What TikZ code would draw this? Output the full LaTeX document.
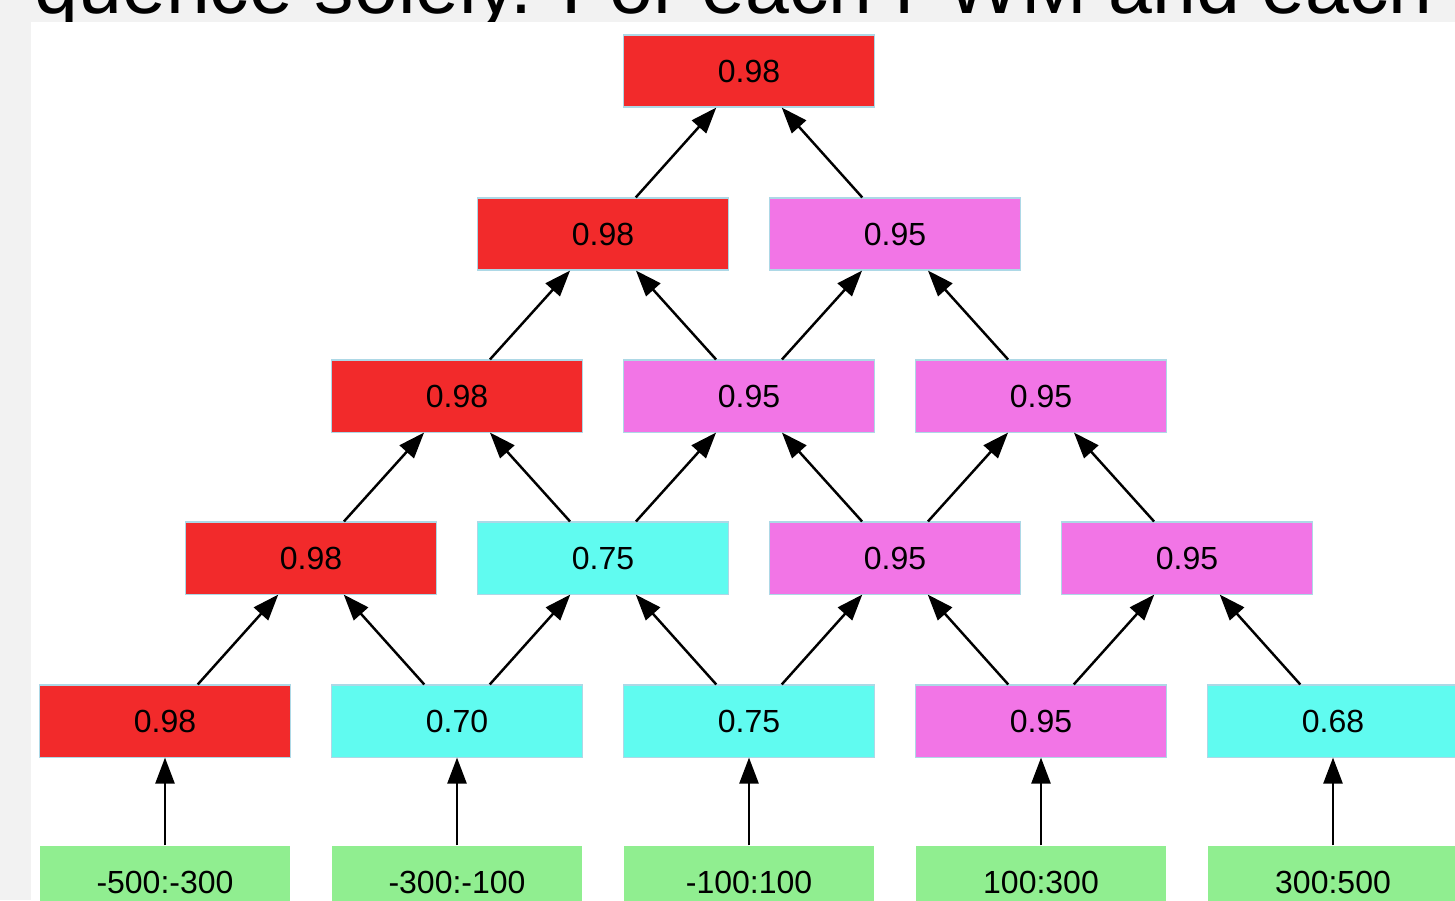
\documentclass[tikz,border=0pt]{standalone}
\usepackage{fontspec}
\setmainfont{Liberation Sans}
\usetikzlibrary{arrows.meta}
\definecolor{hotred}{RGB}{242,42,43}
\definecolor{pinkv}{RGB}{242,117,230}
\definecolor{aqua}{RGB}{96,251,240}
\definecolor{mint}{RGB}{144,238,144}
\definecolor{pagegray}{RGB}{242,242,242}
\definecolor{edgeblue}{RGB}{173,216,230}
\tikzset{cell/.style={draw=edgeblue, line width=0.3pt, minimum width=2.5cm, minimum height=0.72cm, inner sep=0pt, font=\fontsize{9.1pt}{11pt}\selectfont}}
\tikzset{leaf/.style={cell, draw=none, fill=mint}}
\tikzset{arr/.style={draw, -{Triangle[length=2.6mm,width=1.9mm]}, line width=0.7pt}}
\begin{document}
\begin{tikzpicture}[x=0.01cm, y=-0.01cm]
    \useasboundingbox (0,0) rectangle (1455,900);
    \clip (0,0) rectangle (1455,900);
    \fill[pagegray] (0,0) rectangle (1455,900);
    \node[anchor=base west, inner sep=0pt, font=\fontsize{22.4pt}{27pt}\selectfont] (caption) at (34,14) {quence solely. For each PWM and each};
    \fill[white] (31,22) rectangle (1460,920);
    % lattice, top to bottom
    \node[cell, fill=hotred] (n00) at (749,71) {0.98};
    \node[cell, fill=hotred] (n10) at (603,234) {0.98};
    \node[cell, fill=pinkv] (n11) at (895,234) {0.95};
    \node[cell, fill=hotred] (n20) at (457,396) {0.98};
    \node[cell, fill=pinkv] (n21) at (749,396) {0.95};
    \node[cell, fill=pinkv] (n22) at (1041,396) {0.95};
    \node[cell, fill=hotred] (n30) at (311,558) {0.98};
    \node[cell, fill=aqua] (n31) at (603,558) {0.75};
    \node[cell, fill=pinkv] (n32) at (895,558) {0.95};
    \node[cell, fill=pinkv] (n33) at (1187,558) {0.95};
    \node[cell, fill=hotred] (n40) at (165,721) {0.98};
    \node[cell, fill=aqua] (n41) at (457,721) {0.70};
    \node[cell, fill=aqua] (n42) at (749,721) {0.75};
    \node[cell, fill=pinkv] (n43) at (1041,721) {0.95};
    \node[cell, fill=aqua] (n44) at (1333,721) {0.68};
    % windows
    \node[leaf] (b0) at (165,882) {-500:-300};
    \node[leaf] (b1) at (457,882) {-300:-100};
    \node[leaf] (b2) at (749,882) {-100:100};
    \node[leaf] (b3) at (1041,882) {100:300};
    \node[leaf] (b4) at (1333,882) {300:500};
    \foreach \i in {0,...,4}
        \draw[arr] (b\i) -- (n4\i);
    \foreach \a/\b in {10/00, 11/00, 20/10, 21/10, 21/11, 22/11,
        30/20, 31/20, 31/21, 32/21, 32/22, 33/22,
        40/30, 41/30, 41/31, 42/31, 42/32, 43/32, 43/33, 44/33}
        \draw[arr] (n\a) -- (n\b);
\end{tikzpicture}
\end{document}
